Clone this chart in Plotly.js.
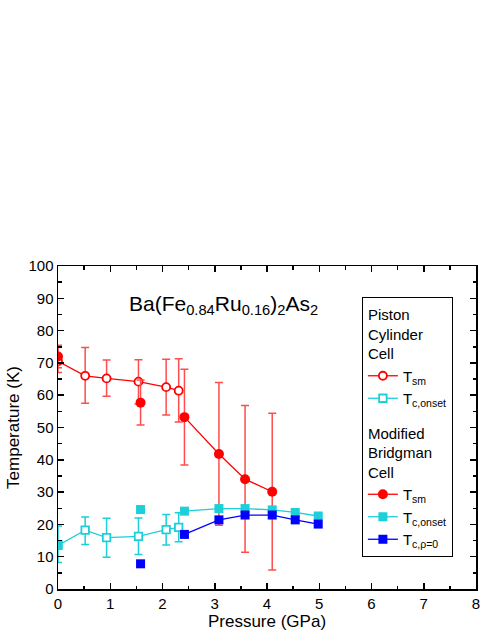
<!DOCTYPE html>
<html>
<head>
<meta charset="utf-8">
<script src="https://cdn.plot.ly/plotly-3.0.1.min.js"></script>
<style>
  html, body { margin: 0; padding: 0; background: #fff; }
  #chart { width: 491px; height: 635px; }
</style>
</head>
<body>
<div id="chart"></div>
<script>
// Piston cylinder cell (open symbols)
const pcPressure = [0, 0.52, 0.93, 1.54, 2.07, 2.31];
const pcTsm = [70.5, 66.0, 65.2, 64.2, 62.5, 61.4];
const pcTsmHi = [75.0, 74.8, 70.9, 71.0, 71.1, 71.3];
const pcTsmLo = [67.0, 57.5, 59.7, 57.3, 53.9, 51.7];
const pcTc = [13.5, 18.2, 15.9, 16.3, 18.4, 19.1];
const pcTcHi = [19.5, 22.3, 21.9, 22.0, 23.1, 23.6];
const pcTcLo = [8.2, 13.8, 9.8, 10.7, 13.6, 14.6];

// Modified Bridgman cell (filled symbols), null = break in the line
const bcPressureTsm = [0, null, 1.58, null, 2.42, 3.08, 3.58, 4.10];
const bcTsm = [72.0, null, 57.7, null, 53.2, 41.8, 34.0, 30.1];
const bcTsmHi = [75.5, null, 64.7, null, 68.0, 63.9, 56.8, 54.4];
const bcTsmLo = [68.5, null, 50.8, null, 38.4, 19.7, 11.4, 5.9];
const bcPressureTc = [0, null, 1.58, null, 2.42, 3.08, 3.58, 4.10, 4.54, 4.98];
const bcTcOnset = [13.8, null, 24.6, null, 24.1, 24.9, 24.9, 24.5, 23.7, 22.6];
const bcPressureTc0 = [1.58, null, 2.42, 3.08, 3.58, 4.10, 4.54, 4.98];
const bcTcZero = [7.8, null, 16.9, 21.4, 22.9, 22.9, 21.4, 20.1];

const red = '#ff0000';
const redErr = '#ff4d4d';
const cyan = '#1ccfd8';
const blue = '#0000ff';
const font = 'Liberation Sans, Arial, sans-serif';

const up = (hi, v) => hi.map((h, i) => h == null ? null : h - v[i]);
const down = (lo, v) => lo.map((l, i) => l == null ? null : v[i] - l);

function errBar(hi, lo, v, color) {
    return {
        type: 'data', symmetric: false,
        array: up(hi, v), arrayminus: down(lo, v),
        color: color, thickness: 1.5, width: 4
    };
}

const traces = [
    {
        x: pcPressure, y: pcTsm, name: 'T<sub>sm</sub>',
        mode: 'lines+markers', type: 'scatter',
        legendgroup: 'pc', legendgrouptitle: { text: 'Piston<br>Cylinder<br>Cell' },
        line: { color: red, width: 1.3 },
        marker: { symbol: 'circle', size: 8, color: '#fff', line: { color: red, width: 1.8 } },
        error_y: errBar(pcTsmHi, pcTsmLo, pcTsm, redErr)
    },
    {
        x: pcPressure, y: pcTc, name: 'T<sub>c,onset</sub>',
        mode: 'lines+markers', type: 'scatter',
        legendgroup: 'pc',
        line: { color: cyan, width: 1.3 },
        marker: { symbol: 'square', size: 7.5, color: '#fff', line: { color: cyan, width: 1.8 } },
        error_y: errBar(pcTcHi, pcTcLo, pcTc, cyan)
    },
    {
        x: bcPressureTsm, y: bcTsm, name: 'T<sub>sm</sub>',
        mode: 'lines+markers', type: 'scatter', connectgaps: false,
        legendgroup: 'bc', legendgrouptitle: { text: 'Modified<br>Bridgman<br>Cell' },
        line: { color: red, width: 1.3 },
        marker: { symbol: 'circle', size: 10, color: red },
        error_y: errBar(bcTsmHi, bcTsmLo, bcTsm, redErr)
    },
    {
        x: bcPressureTc, y: bcTcOnset, name: 'T<sub>c,onset</sub>',
        mode: 'lines+markers', type: 'scatter', connectgaps: false,
        legendgroup: 'bc',
        line: { color: cyan, width: 1.3 },
        marker: { symbol: 'square', size: 9, color: cyan }
    },
    {
        x: bcPressureTc0, y: bcTcZero, name: 'T<sub>c,ρ=0</sub>',
        mode: 'lines+markers', type: 'scatter', connectgaps: false,
        legendgroup: 'bc',
        line: { color: blue, width: 1.3 },
        marker: { symbol: 'square', size: 9, color: blue }
    }
];

const axisCommon = {
    showgrid: false, zeroline: false,
    showline: true, linecolor: '#000', linewidth: 1.5, mirror: 'ticks',
    ticks: 'inside', ticklen: 6, tickwidth: 1.5, tickcolor: '#000',
    tickfont: { family: font, size: 15, color: '#000' },
    minor: { ticks: 'inside', ticklen: 3.5, tickwidth: 1.5, tickcolor: '#000' }
};

const layout = {
    width: 491, height: 635,
    paper_bgcolor: '#fff', plot_bgcolor: '#fff',
    margin: { l: 58, r: 15, t: 266, b: 46 },
    font: { family: font, color: '#000' },
    xaxis: {
        ...axisCommon,
        range: [0, 8], dtick: 1, minor: { ...axisCommon.minor, dtick: 0.5 },
        title: { text: 'Pressure (GPa)', font: { family: font, size: 17 }, standoff: 4 }
    },
    yaxis: {
        ...axisCommon,
        range: [0, 100], dtick: 10, minor: { ...axisCommon.minor, dtick: 5 },
        title: { text: 'Temperature (K)', font: { family: font, size: 17 }, standoff: 4 }
    },
    showlegend: true,
    legend: {
        x: 0.727, y: 0.904, xanchor: 'left', yanchor: 'top',
        bordercolor: '#000', borderwidth: 1, bgcolor: '#fff',
        font: { family: font, size: 15 },
        grouptitlefont: { family: font, size: 15 },
        traceorder: 'grouped', tracegroupgap: 12, itemwidth: 30
    },
    annotations: [{
        xref: 'paper', yref: 'paper', x: 0.395, y: 0.88,
        xanchor: 'center', yanchor: 'middle', showarrow: false,
        text: 'Ba(Fe<sub>0.84</sub>Ru<sub>0.16</sub>)<sub>2</sub>As<sub>2</sub>',
        font: { family: font, size: 21 }
    }]
};

window.Plotly.newPlot('chart', traces, layout, { displayModeBar: false, staticPlot: true });
</script>
</body>
</html>
